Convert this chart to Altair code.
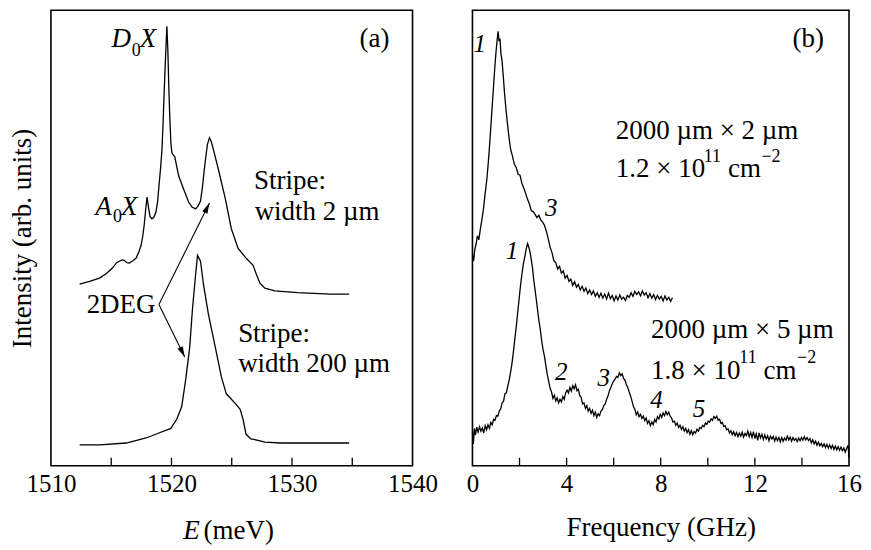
import altair as alt
import pandas as pd

FONT = "Times New Roman, Liberation Serif, serif"
W1, W2, H = 362, 377, 456

# ---------------- panel (a): PL spectra ----------------
A_UP_E = [1512.38, 1513.2, 1514.03, 1514.6, 1515.10, 1515.45, 1515.67, 1515.9, 1516.08, 1516.3,
          1516.49, 1516.8, 1517.07, 1517.3, 1517.48, 1517.62, 1517.73, 1517.85, 1517.97, 1518.08,
          1518.22, 1518.38, 1518.55, 1518.71, 1518.85, 1518.96, 1519.10, 1519.21, 1519.30, 1519.37,
          1519.45, 1519.53, 1519.62, 1519.70, 1519.78, 1519.86, 1519.95, 1520.03, 1520.15, 1520.27,
          1520.45, 1520.60, 1521.01, 1521.42, 1521.70, 1522.00, 1522.20, 1522.41, 1522.58, 1522.70,
          1522.82, 1522.98, 1523.15, 1523.30, 1523.48, 1523.89, 1524.47, 1524.96, 1525.53, 1526.19,
          1526.77, 1527.05, 1527.34, 1527.75, 1528.57, 1530.47, 1533.18, 1534.74]
A_UP_Y = [39.9, 40.5, 41.2, 42.2, 43.4, 44.6, 44.9, 45.2, 45.1, 44.6,
          44.5, 45.0, 45.6, 47.0, 48.4, 50.5, 52.7, 56.0, 59.0, 57.0,
          54.7, 54.2, 54.6, 55.7, 58.0, 61.4, 65.5, 69.4, 75.0, 80.3,
          86.0, 91.1, 96.5, 91.1, 83.0, 76.6, 71.0, 68.8, 68.2, 67.9,
          65.5, 63.6, 60.7, 57.9, 56.8, 56.4, 57.0, 58.1, 61.4, 64.5,
          67.2, 70.5, 72.0, 71.2, 69.4, 65.1, 58.6, 52.1, 47.7, 45.6,
          44.0, 42.0, 40.1, 39.0, 38.4, 38.0, 37.7, 37.7]

A_LO_E = [1512.38, 1514.03, 1516.25, 1517.89, 1518.96, 1519.94, 1520.44, 1520.85, 1521.18, 1521.51,
          1521.75, 1522.00, 1522.16, 1522.41, 1522.66, 1523.07, 1523.64, 1524.14, 1524.55, 1525.29,
          1525.70, 1525.94, 1526.19, 1526.60, 1527.18, 1527.75, 1529.07, 1531.86, 1534.74]
A_LO_Y = [4.6, 4.6, 5.0, 6.1, 7.2, 8.2, 10.2, 13.0, 18.9, 26.0,
          34.7, 41.9, 46.2, 44.9, 39.7, 33.2, 26.0, 19.5, 15.8, 13.7,
          12.4, 10.2, 6.9, 5.9, 5.6, 5.2, 5.0, 5.0, 5.0]

A_TICKS = [1515, 1520, 1525, 1530, 1535]
A_LABELS = [1510, 1520, 1530, 1540]

# plain annotations (left aligned)
A_TXT = ["(a)", "Stripe:", "width 2 µm", "2DEG", "Stripe:", "width 200 µm"]
A_TXT_E = [1535.6, 1526.85, 1526.9, 1512.96, 1525.53, 1525.53]
A_TXT_Y = [93.7, 62.5, 55.7, 35.4, 28.9, 22.3]
# italic labels (centered)
A_ITA = ["D", "X", "A", "X"]
A_ITA_E = [1515.84, 1518.05, 1514.36, 1516.49]
A_ITA_Y = [93.7, 93.7, 56.8, 56.8]
# subscripts
A_SUB = ["0", "0"]
A_SUB_E = [1517.07, 1515.51]
A_SUB_Y = [91.1, 54.7]
# arrows from "2DEG"
ARR_E = [1518.96, 1523.15, 1518.96, 1521.10]
ARR_Y = [35.4, 57.7, 35.4, 23.9]
ARR_SEG = ["up", "up", "down", "down"]
# x-axis title of (a)
E_TITLE = ["E"]
E_TITLE_X = [1521.67]
MEV_TITLE = ["(meV)"]
MEV_TITLE_X = [1522.66]

# ---------------- panel (b): spectra vs frequency ----------------
B_UP_F = [0.00, 0.05, 0.10, 0.16, 0.21, 0.27, 0.33, 0.40, 0.47, 0.54, 0.61, 0.68, 0.75, 0.82, 0.89,
          0.95, 1.00, 1.05, 1.09, 1.13, 1.17, 1.21, 1.26, 1.31, 1.36, 1.42, 1.48, 1.55, 1.62, 1.70,
          1.78, 1.86, 1.94, 2.02, 2.10, 2.18, 2.26, 2.34, 2.42, 2.50, 2.58, 2.66, 2.74, 2.82, 2.90,
          2.98, 3.06, 3.14, 3.22, 3.30, 3.38, 3.46, 3.54, 3.62, 3.70, 3.78, 3.86, 3.94, 4.02, 4.10,
          4.18, 4.26, 4.34, 4.42, 4.50, 4.58, 4.66, 4.74, 4.82, 4.90, 4.98, 5.06, 5.14, 5.22, 5.30,
          5.38, 5.46, 5.54, 5.62, 5.70, 5.78, 5.86, 5.94, 6.02, 6.10, 6.18, 6.26, 6.34, 6.42, 6.50,
          6.58, 6.66, 6.74, 6.82, 6.90, 6.98, 7.06, 7.14, 7.22, 7.30, 7.38, 7.46, 7.54, 7.62, 7.70,
          7.78, 7.86, 7.94, 8.02, 8.10, 8.18, 8.26, 8.34, 8.42, 8.50]
B_UP_Y = [46.5, 45.0, 47.5, 48.8, 50.5, 49.6, 51.8, 54.0, 56.5, 59.8, 62.8, 67.0, 72.0, 77.5, 82.8,
          87.5, 90.8, 93.5, 95.4, 93.2, 93.8, 90.5, 88.8, 85.5, 82.0, 78.5, 75.5, 72.2, 69.5, 68.0,
          66.2, 65.5, 64.0, 63.8, 62.0, 61.0, 59.8, 58.5, 57.5, 56.0, 55.8, 55.2, 54.5, 55.0, 54.0,
          53.5, 52.8, 51.5, 49.8, 48.0, 46.8, 45.0, 44.6, 43.2, 43.8, 42.3, 42.8, 41.2, 41.8, 40.5,
          41.0, 39.6, 40.4, 39.2, 39.8, 38.6, 39.4, 38.3, 39.0, 37.8, 38.6, 37.6, 38.4, 37.2, 38.0,
          37.0, 37.9, 36.8, 37.7, 36.6, 37.9, 36.7, 37.4, 36.2, 37.3, 36.4, 37.5, 36.6, 37.0, 36.3,
          37.4, 37.0, 38.0, 37.2, 38.3, 37.6, 38.2, 37.3, 38.4, 37.5, 38.0, 36.9, 37.8, 36.8, 37.6,
          36.5, 37.4, 36.6, 37.2, 36.2, 37.3, 36.4, 37.0, 36.1, 36.9]

B_LO_F = [0.00, 0.04, 0.08, 0.13, 0.18, 0.24, 0.30, 0.36, 0.42, 0.48, 0.54, 0.60, 0.66, 0.72, 0.78,
          0.84, 0.90, 0.96, 1.02, 1.08, 1.14, 1.20, 1.26, 1.32, 1.38, 1.44, 1.50, 1.56, 1.62, 1.68,
          1.74, 1.80, 1.86, 1.92, 1.98, 2.04, 2.10, 2.16, 2.22, 2.28, 2.34, 2.38, 2.42, 2.46, 2.50,
          2.55, 2.60, 2.65, 2.70, 2.76, 2.82, 2.88, 2.94, 3.00, 3.06, 3.12, 3.18, 3.24, 3.30, 3.36,
          3.42, 3.48, 3.54, 3.60, 3.66, 3.72, 3.78, 3.84, 3.90, 3.96, 4.02, 4.08, 4.14, 4.20, 4.26,
          4.32, 4.38, 4.44, 4.50, 4.56, 4.62, 4.68, 4.74, 4.80, 4.86, 4.92, 4.98, 5.04, 5.10, 5.16,
          5.22, 5.28, 5.34, 5.40, 5.46, 5.52, 5.58, 5.64, 5.70, 5.76, 5.82, 5.88, 5.94, 6.00, 6.06,
          6.12, 6.18, 6.24, 6.30, 6.36, 6.42, 6.48, 6.54, 6.60, 6.66, 6.72, 6.78, 6.84, 6.90, 6.96,
          7.02, 7.08, 7.14, 7.20, 7.26, 7.32, 7.38, 7.44, 7.50, 7.56, 7.62, 7.68, 7.74, 7.80, 7.86,
          7.92, 7.98, 8.04, 8.10, 8.16, 8.22, 8.28, 8.34, 8.40, 8.46, 8.52, 8.58, 8.64, 8.70, 8.76,
          8.82, 8.88, 8.94, 9.00, 9.06, 9.12, 9.18, 9.24, 9.30, 9.36, 9.42, 9.48, 9.54, 9.60, 9.66,
          9.72, 9.78, 9.84, 9.90, 9.96, 10.02, 10.08, 10.14, 10.20, 10.26, 10.32, 10.38, 10.44, 10.50, 10.56,
          10.62, 10.68, 10.74, 10.80, 10.86, 10.92, 10.98, 11.04, 11.10, 11.16, 11.22, 11.28, 11.34, 11.40, 11.46,
          11.52, 11.58, 11.64, 11.70, 11.76, 11.82, 11.88, 11.94, 12.00, 12.06, 12.12, 12.18, 12.24, 12.30, 12.36,
          12.42, 12.48, 12.54, 12.60, 12.66, 12.72, 12.78, 12.84, 12.90, 12.96, 13.02, 13.08, 13.14, 13.20, 13.26,
          13.32, 13.38, 13.44, 13.50, 13.56, 13.62, 13.68, 13.74, 13.80, 13.86, 13.92, 13.98, 14.04, 14.10, 14.16,
          14.22, 14.28, 14.34, 14.40, 14.46, 14.52, 14.58, 14.64, 14.70, 14.76, 14.82, 14.88, 14.94, 15.00, 15.06,
          15.12, 15.18, 15.24, 15.30, 15.36, 15.42, 15.48, 15.54, 15.60, 15.66, 15.72, 15.78, 15.84, 15.90, 15.96,
          16.00]
B_LO_Y = [7.5, 4.8, 8.2, 6.8, 8.5, 7.4, 8.6, 7.6, 8.3, 7.2, 8.8, 7.9, 9.0, 8.2, 9.5,
          9.0, 10.2, 10.0, 11.0, 10.9, 12.0, 12.5, 13.8, 14.2, 15.8, 16.0, 17.5, 18.8, 20.5, 22.5,
          25.0, 27.8, 30.5, 33.5, 36.5, 39.5, 42.0, 44.2, 45.8, 47.5, 48.8, 48.2, 47.5, 46.5, 45.2,
          43.5, 41.0, 39.0, 37.0, 34.5, 32.0, 30.0, 27.5, 25.5, 24.0, 22.0, 20.0, 18.5, 17.0, 16.2,
          14.8, 15.5, 14.2, 14.9, 13.8, 14.6, 14.0, 15.2, 14.6, 16.0, 16.6, 16.0, 17.2, 16.4, 17.6,
          16.9, 17.8, 16.5, 16.8, 15.4, 15.0, 13.6, 13.8, 12.6, 13.2, 12.0, 12.6, 11.5, 12.2, 11.0,
          11.8, 10.6, 11.4, 11.0, 12.0, 12.3, 13.2, 13.6, 14.6, 15.3, 16.5, 17.2, 18.0, 18.6, 19.0,
          19.6, 19.4, 20.4, 19.8, 20.2, 19.2, 18.8, 17.8, 17.2, 16.2, 15.3, 14.2, 13.0, 12.4, 11.2,
          11.8, 10.8, 11.3, 10.4, 10.9, 9.9, 10.5, 9.3, 9.9, 8.8, 9.6, 9.0, 10.2, 9.6, 10.8,
          10.3, 11.3, 10.6, 11.6, 11.0, 11.9, 11.2, 11.8, 10.9, 10.5, 9.6, 9.8, 8.9, 9.4, 8.4,
          8.9, 8.0, 8.6, 7.6, 8.2, 7.3, 7.9, 6.9, 7.7, 6.8, 7.5, 7.2, 8.0, 7.6, 8.4,
          8.2, 8.9, 8.6, 9.4, 9.1, 9.8, 9.6, 10.3, 10.0, 10.8, 10.4, 10.9, 10.0, 10.2, 9.3,
          9.5, 8.6, 8.8, 7.9, 8.1, 7.2, 7.7, 6.8, 7.5, 6.6, 7.3, 6.4, 7.2, 6.5, 7.4,
          6.3, 7.1, 6.6, 7.6, 6.4, 7.3, 6.2, 7.5, 6.0, 7.0, 5.6, 7.2, 6.1, 6.9, 5.8,
          6.8, 5.9, 6.6, 5.5, 6.5, 5.9, 6.4, 5.4, 6.3, 5.5, 6.2, 5.3, 6.2, 5.4, 6.1,
          5.6, 6.5, 5.7, 6.3, 5.4, 6.2, 5.6, 6.0, 5.3, 6.1, 5.5, 6.2, 5.6, 6.4, 5.7,
          6.2, 5.5, 6.0, 5.0, 5.7, 4.8, 5.4, 4.5, 5.2, 4.4, 4.9, 4.2, 4.8, 4.0, 4.7,
          3.9, 4.6, 3.8, 4.5, 3.6, 4.3, 3.5, 4.2, 3.4, 4.1, 3.3, 3.9, 3.0, 3.8, 4.5,
          1.8]

B_TICKS = [2, 4, 6, 8, 10, 12, 14]
B_LABELS = [0, 4, 8, 12, 16]

# plain annotations (left aligned, main size)
B_TXT = ["(b)", "2000 µm × 2 µm", "1.2 × 10", "cm", "2000 µm × 5 µm", "1.8 × 10", "cm"]
B_TXT_F = [13.6, 6.09, 6.09, 10.86, 7.59, 7.59, 12.37]
B_TXT_Y = [93.7, 73.5, 65.1, 65.1, 29.7, 20.8, 20.8]
# superscripts
B_SUP = ["11", "−2", "11", "−2"]
B_SUP_F = [9.83, 12.28, 11.34, 13.79]
B_SUP_Y = [67.9, 67.9, 23.6, 23.6]
# italic peak numbers
B_NUM = ["1", "3", "1", "2", "3", "4", "5"]
B_NUM_F = [0.31, 3.35, 1.68, 3.77, 5.58, 7.82, 9.63]
B_NUM_Y = [92.6, 56.6, 47.1, 20.6, 19.2, 14.5, 12.4]


def df(xs, ys, **extra):
    d = pd.DataFrame({"x": xs, "y": ys})
    d["i"] = range(len(d))
    for k, v in extra.items():
        d[k] = v
    return d


YSC = alt.Scale(domain=[0, 100], nice=False, zero=False)


def axes(xdom, labels, xtitle, ytitle):
    xsc = alt.Scale(domain=xdom, nice=False, zero=False)
    xax_kw = dict(values=labels, format="d", ticks=False, tickSize=0, domain=False, grid=False,
                  labelFont=FONT, labelFontSize=25, labelColor="black", labelPadding=6,
                  labelFlush=False, titleFont=FONT, titleFontSize=27,
                  titleFontWeight="normal", titleColor="black", titlePadding=18)
    xax = alt.Axis(title=xtitle, **xax_kw) if xtitle else alt.Axis(title=None, **xax_kw)
    if ytitle:
        yax = alt.Axis(title=ytitle, labels=False, ticks=False, tickSize=0, domain=False,
                       grid=False, titleFont=FONT, titleFontSize=27,
                       titleFontWeight="normal", titleColor="black", titlePadding=14)
    else:
        yax = None
    return alt.X("x:Q", scale=xsc, axis=xax), alt.Y("y:Q", scale=YSC, axis=yax)


def text_layer(d, X, Y, size, align="left", italic=False):
    kw = dict(font=FONT, fontSize=size, align=align, baseline="middle", color="black")
    if italic:
        kw["fontStyle"] = "italic"
    return alt.Chart(d).mark_text(**kw).encode(x=X, y=Y, text="t:N")


def curve(d, X, Y):
    return alt.Chart(d).mark_line(color="black", strokeWidth=1.3).encode(x=X, y=Y, order="i:Q")


def tick_layer(vals, X):
    return alt.Chart(pd.DataFrame({"x": vals})).mark_rule(color="black", strokeWidth=1.3).encode(
        x=X, y=alt.value(H - 8), y2=alt.value(H))


VIEW = alt.ViewBackground(stroke="black", strokeWidth=1.6, fill="white")

# --- left panel ---
XA, YA = axes([1510, 1540], A_LABELS, None, "Intensity (arb. units)")
arr = df(ARR_E, ARR_Y, seg=ARR_SEG)
tip_up = arr[arr.i == 1]
tip_dn = arr[arr.i == 3]
ARROW_SHAPE = "M0,0L-0.55,2L0.55,2Z"

left_layers = [
    curve(df(A_UP_E, A_UP_Y), XA, YA),
    curve(df(A_LO_E, A_LO_Y), XA, YA),
    tick_layer(A_TICKS, XA),
    alt.Chart(arr).mark_line(color="black", strokeWidth=1.1).encode(
        x=XA, y=YA, detail="seg:N", order="i:Q"),
    alt.Chart(tip_up).mark_point(shape=ARROW_SHAPE, size=110, filled=True, color="black",
                                 opacity=1, angle=26).encode(x=XA, y=YA),
    alt.Chart(tip_dn).mark_point(shape=ARROW_SHAPE, size=110, filled=True, color="black",
                                 opacity=1, angle=154).encode(x=XA, y=YA),
    text_layer(df(A_TXT_E, A_TXT_Y, t=A_TXT), XA, YA, 27),
    text_layer(df(A_ITA_E, A_ITA_Y, t=A_ITA), XA, YA, 27, align="center", italic=True),
    text_layer(df(A_SUB_E, A_SUB_Y, t=A_SUB), XA, YA, 18, align="center"),
    text_layer(pd.DataFrame({"x": E_TITLE_X, "t": E_TITLE}), XA, alt.value(H + 65), 27,
               align="center", italic=True),
    text_layer(pd.DataFrame({"x": MEV_TITLE_X, "t": MEV_TITLE}), XA, alt.value(H + 65), 27),
]
left = alt.layer(*left_layers).properties(width=W1, height=H, view=VIEW)

# --- right panel ---
XB, YB = axes([0, 16], B_LABELS, "Frequency (GHz)", None)
right_layers = [
    curve(df(B_UP_F, B_UP_Y), XB, YB),
    curve(df(B_LO_F, B_LO_Y), XB, YB),
    tick_layer(B_TICKS, XB),
    text_layer(df(B_TXT_F, B_TXT_Y, t=B_TXT), XB, YB, 27),
    text_layer(df(B_SUP_F, B_SUP_Y, t=B_SUP), XB, YB, 18),
    text_layer(df(B_NUM_F, B_NUM_Y, t=B_NUM), XB, YB, 25, align="center", italic=True),
]
right = alt.layer(*right_layers).properties(width=W2, height=H, view=VIEW)

chart = alt.hconcat(left, right, spacing=60, bounds="flush").properties(
    padding={"left": 0, "top": 1, "right": 0, "bottom": 0}
).configure_view(stroke="black", strokeWidth=1.6).configure(background="white")

chart.save("out.html", embed_options={"renderer": "svg", "actions": False})
